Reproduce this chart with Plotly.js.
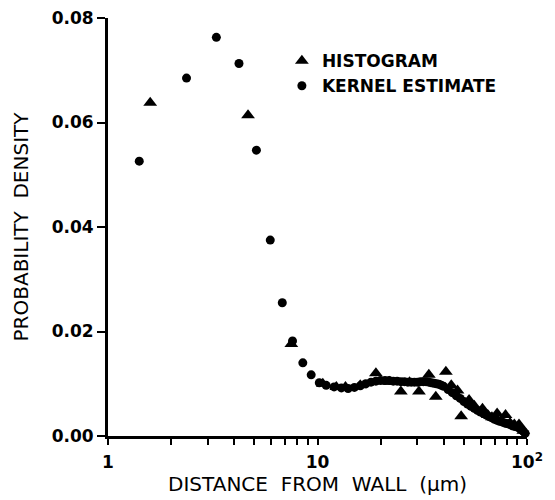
<!DOCTYPE html>
<html>
<head>
<meta charset="utf-8">
<script src="https://cdn.plot.ly/plotly-3.0.1.min.js"></script>
<style>html,body{margin:0;padding:0;background:#fff;}#chart{width:555px;height:500px;}</style>
</head>
<body>
<div id="chart"></div>
<script>
// Histogram (triangles): distance from wall (µm) and probability density
const histX = [1.59, 4.66, 7.5, 10.6, 12.3, 13.6, 16, 19, 22, 25, 27.5, 30.5, 34, 36.7, 41, 43.5, 46.6, 48.5, 52.9, 56, 61.3, 65, 68, 72, 79, 83, 87, 91.6, 96];
const histY = [0.0638, 0.0614, 0.0176, 0.0100, 0.0094, 0.0094, 0.0097, 0.0120, 0.0104, 0.0085, 0.0103, 0.0085, 0.0117, 0.0075, 0.0123, 0.0097, 0.0087, 0.0038, 0.0069, 0.0058, 0.0052, 0.0040, 0.0036, 0.0043, 0.0040, 0.0025, 0.0022, 0.0022, 0.0010];

// Kernel estimate (circles)
const kernelX = [1.41, 2.37, 3.29, 4.22, 5.11, 5.95, 6.79, 7.6, 8.51, 9.33, 10.2, 11, 12, 13, 14, 15, 16, 17, 18, 19, 20, 21, 22, 23, 24, 25, 26, 27, 28, 29, 30, 31, 32, 33, 34, 35, 36, 37, 38, 39, 40, 42, 44, 46, 48, 50, 52, 54, 56, 58, 60, 62, 64, 66, 68, 70, 72, 74, 76, 78, 80, 82, 84, 86, 88, 90, 92, 94, 96, 98];
const kernelY = [0.0526, 0.0685, 0.0763, 0.0713, 0.0547, 0.0375, 0.0255, 0.0182, 0.0140, 0.0117, 0.0102, 0.0097, 0.0094, 0.0092, 0.0091, 0.0093, 0.0096, 0.0100, 0.0103, 0.0105, 0.0106, 0.0106, 0.0106, 0.0105, 0.0105, 0.0104, 0.0104, 0.0103, 0.0103, 0.0103, 0.0103, 0.0104, 0.0104, 0.0104, 0.0103, 0.0102, 0.0101, 0.0100, 0.0099, 0.0097, 0.0095, 0.0089, 0.0083, 0.0077, 0.0072, 0.0066, 0.0061, 0.0057, 0.0053, 0.0049, 0.0046, 0.0043, 0.0040, 0.0037, 0.0035, 0.0032, 0.0030, 0.0028, 0.0027, 0.0025, 0.0024, 0.0023, 0.0021, 0.0019, 0.0018, 0.0017, 0.0015, 0.0012, 0.0009, 0.0005];

// Axis ticks (log x axis: labelled decades plus unlabelled intermediate ticks)
const xTickVals = [1, 2, 3, 4, 5, 6, 7, 8, 9, 10, 20, 30, 40, 50, 60, 70, 80, 90, 100];
const xTickText = ["1", "", "", "", "", "", "", "", "", "10", "", "", "", "", "", "", "", "", "10<sup>2</sup>"];
const yTickVals = [0, 0.02, 0.04, 0.06, 0.08];
const yTickText = ["0.00", "0.02", "0.04", "0.06", "0.08"];

const traces = [
  {
    x: histX, y: histY, type: "scatter", mode: "markers", name: "HISTOGRAM",
    marker: {symbol: "triangle-up", size: 12, color: "#000"}, cliponaxis: false
  },
  {
    x: kernelX, y: kernelY, type: "scatter", mode: "markers", name: "KERNEL ESTIMATE",
    marker: {symbol: "circle", size: 9, color: "#000"}, cliponaxis: false
  }
];

const tickFont = {family: "DejaVu Sans", size: 17, color: "#000", weight: "bold"};
const titleFont = {family: "DejaVu Sans", size: 20, color: "#000"};

const layout = {
  width: 555, height: 500,
  margin: {l: 108, r: 28, t: 18, b: 64},
  paper_bgcolor: "#fff", plot_bgcolor: "#fff",
  showlegend: true,
  legend: {
    x: 0.415, y: 0.94, xanchor: "left", yanchor: "top",
    font: {family: "DejaVu Sans", size: 17, color: "#000", weight: "bold"},
    bgcolor: "rgba(0,0,0,0)", borderwidth: 0, itemwidth: 30
  },
  xaxis: {
    type: "log", range: [0, 2],
    tickmode: "array", tickvals: xTickVals, ticktext: xTickText,
    ticks: "outside", ticklen: 6, tickwidth: 2, tickcolor: "#000",
    showline: true, linewidth: 3, linecolor: "#000",
    showgrid: false, zeroline: false,
    tickfont: tickFont, ticklabelstandoff: 3,
    title: {text: "DISTANCE\u00a0 FROM\u00a0 WALL\u00a0 (\u03bcm)", font: titleFont, standoff: 0}
  },
  yaxis: {
    range: [0, 0.08],
    tickmode: "array", tickvals: yTickVals, ticktext: yTickText,
    ticks: "outside", ticklen: 8, tickwidth: 2, tickcolor: "#000",
    showline: true, linewidth: 3, linecolor: "#000",
    showgrid: false, zeroline: false,
    tickfont: tickFont,
    title: {text: "PROBABILITY\u00a0 DENSITY", font: titleFont, standoff: 18}
  }
};

Plotly.newPlot("chart", traces, layout, {displayModeBar: false, staticPlot: true});
</script>
</body>
</html>
